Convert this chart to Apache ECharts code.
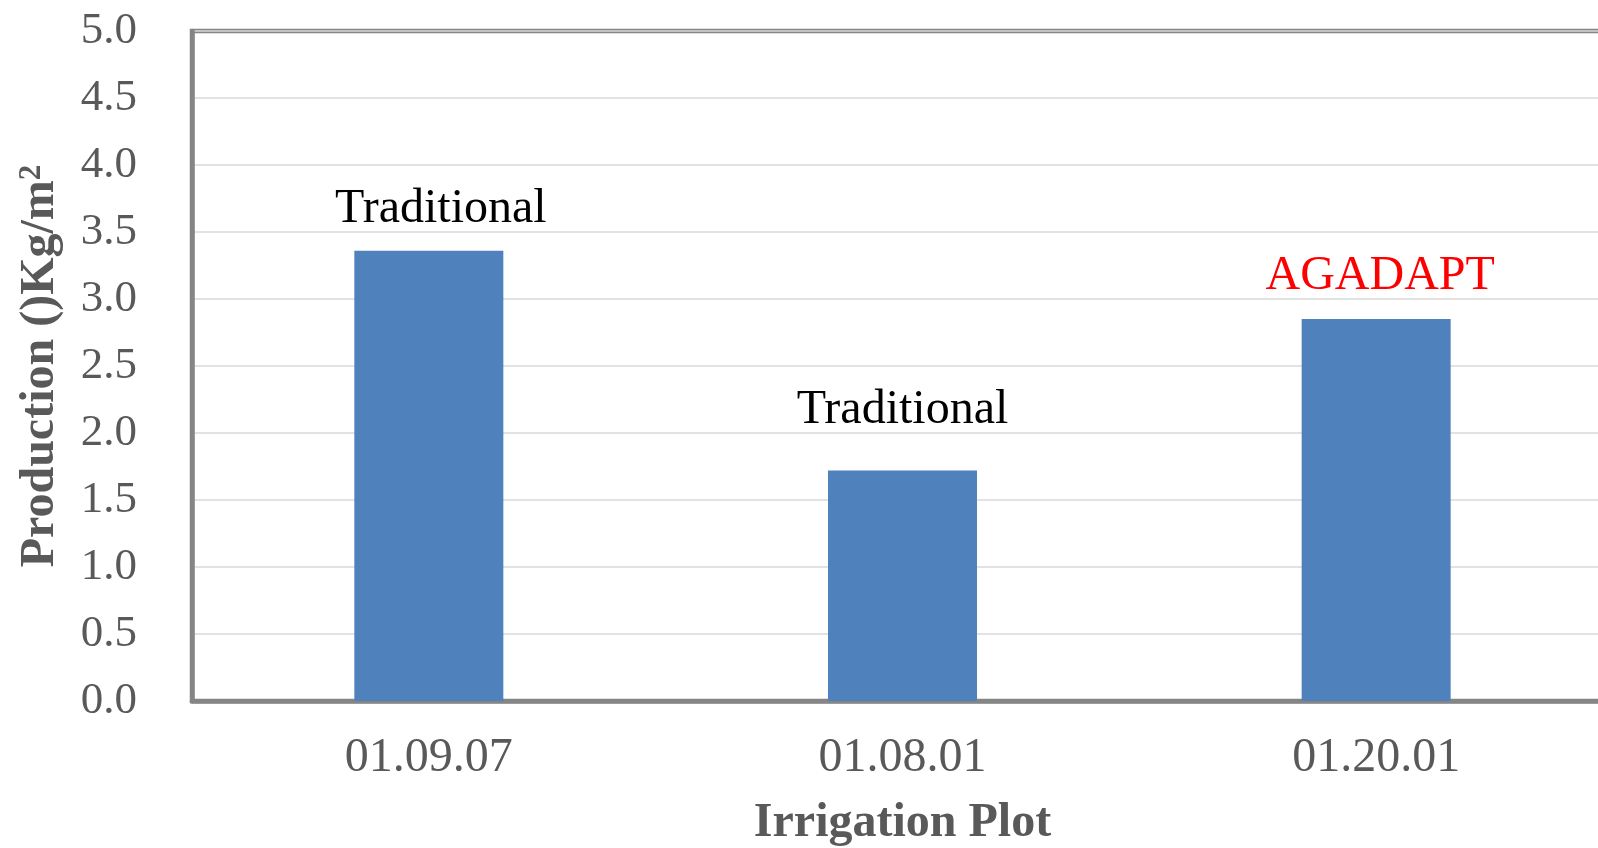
<!DOCTYPE html>
<html>
<head>
<meta charset="utf-8">
<script src="https://cdn.jsdelivr.net/npm/echarts@6/dist/echarts.min.js"></script>
<style>
html,body{margin:0;padding:0;background:#fff;overflow:hidden;}
#chart{width:1598px;height:848px;}
</style>
</head>
<body>
<div id="chart"></div>
<script>
// ---- data ----
const categories = ['01.09.07', '01.08.01', '01.20.01'];
const production = [3.36, 1.72, 2.85];
const barNotes = ['Traditional', 'Traditional', 'AGADAPT'];
const yTicks = ['0.0','0.5','1.0','1.5','2.0','2.5','3.0','3.5','4.0','4.5','5.0'];

// ---- layout/style (not data) ----
const noteLayout = [
  { distance: 17, dx: 12 },
  { distance: 36, dx: 0 },
  { distance: 19, dx: 4 }
];
const serif = "'Liberation Serif', 'Times New Roman', serif";

const chart = echarts.init(document.getElementById('chart'));
chart.setOption({
  animation: false,
  backgroundColor: '#ffffff',
  grid: {
    left: 192, top: 31, height: 670, width: 1421,
    outerBoundsMode: 'none',
    containLabel: false,
    show: true, borderColor: '#858585', borderWidth: 4.5
  },
  xAxis: {
    type: 'category',
    data: categories,
    axisTick: { show: false },
    axisLine: { show: true, lineStyle: { color: '#858585', width: 4.5 } },
    axisLabel: { fontFamily: serif, fontSize: 48, color: '#595959', margin: 33 },
    name: 'Irrigation Plot',
    nameLocation: 'middle',
    nameGap: 99,
    nameTextStyle: { fontFamily: serif, fontSize: 48, fontWeight: 'bold', color: '#595959' }
  },
  yAxis: {
    type: 'value',
    min: 0, max: 5, interval: 0.5,
    axisLine: { show: true, lineStyle: { color: '#858585', width: 4.5 } },
    axisTick: { show: false },
    splitLine: { show: true, lineStyle: { color: '#d9d9d9', width: 1.5 } },
    axisLabel: {
      fontFamily: serif, fontSize: 45, color: '#595959', margin: 55,
      formatter: function (v) { return yTicks[Math.round(v / 0.5)]; }
    },
    name: '{t|Production ()Kg/m}{s|2}',
    nameLocation: 'middle',
    nameGap: 127,
    nameRotate: 90,
    nameTextStyle: {
      rich: {
        t: { fontFamily: serif, fontSize: 48, fontWeight: 'bold', color: '#595959', verticalAlign: 'bottom' },
        s: { fontFamily: serif, fontSize: 31, fontWeight: 'bold', color: '#595959', verticalAlign: 'top', padding: [0, 0, 18, 0] }
      }
    }
  },
  series: [{
    type: 'bar',
    barWidth: 149,
    itemStyle: { color: '#4f81bd' },
    data: production.map(function (v, i) {
      return {
        value: v,
        label: {
          show: true,
          position: 'top',
          distance: noteLayout[i].distance,
          offset: [noteLayout[i].dx, 0],
          formatter: barNotes[i],
          fontFamily: serif,
          fontSize: 48,
          lineHeight: 48,
          color: barNotes[i] === 'AGADAPT' ? '#ff0000' : '#000000'
        }
      };
    })
  }]
});
</script>
</body>
</html>
